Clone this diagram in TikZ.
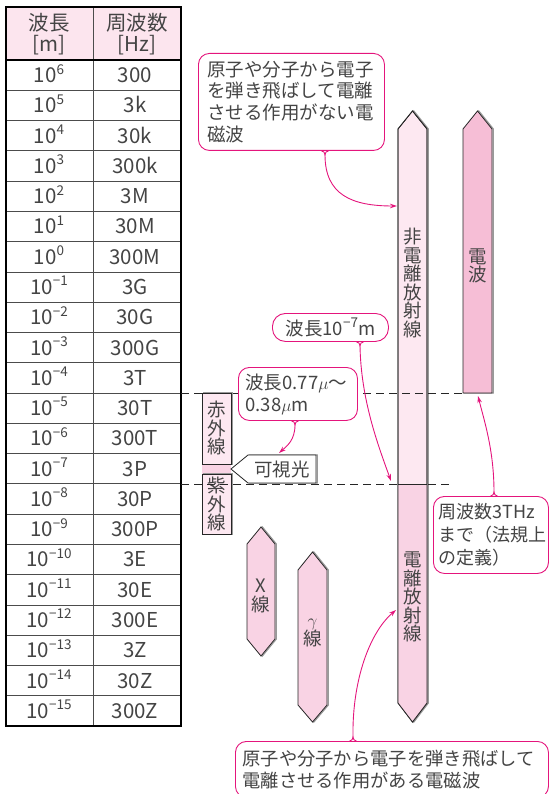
\documentclass[tikz,border=0pt]{standalone}
\usepackage{fontspec}
\setmainfont{Noto Sans CJK JP}
\usetikzlibrary{arrows.meta,calc}
\definecolor{ink}{HTML}{444444}
\definecolor{mag}{HTML}{E4157C}
\definecolor{pkA}{HTML}{FDE8F1}
\definecolor{pkB}{HTML}{F9D3E4}
\definecolor{pkC}{HTML}{F6BED6}
\definecolor{hdr}{HTML}{FCE5EE}
\newcommand\sups[1]{\raisebox{0.42em}{\fontsize{13.5}{13.5}\selectfont #1}}
\begin{document}
\begin{tikzpicture}[x=1pt,y=-1pt,
 tbl/.style={text=ink,font=\fontsize{20.5}{21}\selectfont,inner sep=0pt,align=center},
 vtxt/.style={text=ink,font=\fontsize{18.5}{18.6}\selectfont,inner sep=0pt,align=center},
 callout/.style={draw=mag,line width=0.9pt,rounded corners=11pt,fill=white,text=ink,anchor=north west,inner ysep=0pt,align=left},
 tail/.style={draw=mag,line width=0.9pt,-{Stealth[length=7pt,width=4.5pt]}},
 notch/.style={draw=mag,line width=0.9pt},
 shp/.style={draw=black!85,line width=0.8pt,line join=miter,preaction={draw=black!40,line width=1.3pt,transform canvas={xshift=1.3pt}}},
 outl/.style={draw=black!85,line width=0.8pt,line join=miter},
 dline/.style={draw=black!85,line width=0.8pt,dash pattern=on 8pt off 5pt}]

\useasboundingbox (0,0) rectangle (551,794);

% ---------- table ----------
\fill[hdr] (6,7) rectangle (181,60);
\foreach \k in {1,...,21} \draw[black!70,line width=0.7pt] (6,{60+30.27*\k}) -- (181,{60+30.27*\k});
\draw[black!70,line width=0.8pt] (93,7) -- (93,726);
\draw[black,line width=1.4pt] (6,60) -- (181,60);
\draw[black,line width=2pt] (6,7) rectangle (181,726);

\node[tbl] (h1) at (49,34) {波長\\{[}m{]}};
\node[tbl] (h2) at (137,34) {周波数\\{[}Hz{]}};

\foreach \i/\e/\f in {0/6/300,1/5/3k,2/4/30k,3/3/300k,4/2/3M,5/1/30M,6/0/300M,7/−1/3G,8/−2/30G,9/−3/300G,10/−4/3T,11/−5/30T,12/−6/300T,13/−7/3P,14/−8/30P,15/−9/300P,16/−10/3E,17/−11/30E,18/−12/300E,19/−13/3Z,20/−14/30Z,21/−15/300Z}{
  \node[tbl,anchor=base] (w\i) at (49,{60+30.27*(\i+0.5)+7.5}) {10\sups{\e}};
  \node[tbl,anchor=base] (f\i) at (135,{60+30.27*(\i+0.5)+7.5}) {\f};
}

% ---------- bars ----------
\draw[shp,fill=pkA] (398,129) -- (412.5,111) -- (427,129) -- (427,703) -- (412.5,722) -- (398,703) -- cycle;
\fill[pkB] (398,484) -- (427,484) -- (427,703) -- (412.5,722) -- (398,703) -- cycle;
\draw[outl] (398,129) -- (412.5,111) -- (427,129) -- (427,703) -- (412.5,722) -- (398,703) -- cycle;
\draw[outl] (398,484) -- (427,484);

\draw[shp,fill=pkC] (463,129) -- (477.5,111) -- (492,129) -- (492,393) -- (463,393) -- cycle;

\fill[pkB] (202,464) rectangle (231,474);
\draw[shp,fill=pkA] (202,393) rectangle (231,464);
\draw[shp,fill=pkA] (202,474) rectangle (231,534);
\draw[shp,fill=white] (231,469) -- (248,455) -- (316,455) -- (316,483) -- (248,483) -- cycle;

\draw[shp,fill=pkB] (247,544) -- (261,527) -- (275,544) -- (275,639) -- (261,656) -- (247,639) -- cycle;
\draw[shp,fill=pkB] (298,570) -- (312.5,552) -- (327,570) -- (327,705) -- (312.5,722) -- (298,705) -- cycle;

\draw[dline] (181,393) -- (463,393);
\draw[dline] (181,484) -- (451,484);

\node[vtxt] (t1) at (412.5,283) {非\\電\\離\\放\\射\\線};
\node[vtxt] (t2) at (477.5,266) {電\\波};
\node[vtxt] (t3) at (412.5,597) {電\\離\\放\\射\\線};
\node[vtxt] (t4) at (216.5,428) {赤\\外\\線};
\node[vtxt] (t5) at (216.5,504) {紫\\外\\線};
\node[vtxt] (t6) at (282,469) {可視光};
\node[vtxt] (t7) at (261,596) {X\\線};
\node[vtxt] (t8) at (312.5,633) {$\gamma$\\線};

% ---------- callouts ----------
\node[callout,minimum width=186pt,minimum height=97pt,inner xsep=9pt,text width=168pt,font=\fontsize{18.5}{21.7}\selectfont] (cA) at (198,53) {原子や分子から電子\\を弾き飛ばして電離\\させる作用がない電\\磁波};
\node[callout,minimum width=116pt,minimum height=28pt,inner xsep=0pt,align=center,rounded corners=13pt,font=\fontsize{18.5}{20}\selectfont] (cB) at (272,313) {波長10\sups{−7}m};
\node[callout,minimum height=53pt,inner xsep=7pt,text width=105pt,font=\fontsize{18.5}{22}\selectfont] (cC) at (238,367) {波長0.77$\mu$～\\0.38$\mu$m};
\node[callout,minimum height=77pt,inner xsep=5pt,text width=105pt,font=\fontsize{18}{23}\selectfont] (cD) at (433,496) {周波数3THz\\まで（法規上\\の定義）};
\node[callout,minimum height=56pt,inner xsep=7pt,text width=299pt,font=\fontsize{18.3}{22}\selectfont] (cE) at (235,741) {原子や分子から電子を弾き飛ばして\\電離させる作用がある電磁波};

\coordinate (aTop) at (397,206);
\coordinate (a7) at (391,481);
\coordinate (aVis) at (279,453);
\coordinate (aTHz) at (478,396);
\coordinate (aBot) at (396,610);

% tails (bottom)
\draw[notch] ([xshift=123.5pt]cA.south west) to[out=0,in=90] ([xshift=127pt,yshift=-4pt]cA.south west) to[out=90,in=180] ([xshift=130.5pt]cA.south west);
\draw[tail] ([xshift=127pt,yshift=-4pt]cA.south west) .. controls (325,195) and (352,206) .. (aTop);

\draw[notch] ([xshift=84.5pt]cB.south west) to[out=0,in=90] ([xshift=88pt,yshift=-4pt]cB.south west) to[out=90,in=180] ([xshift=91.5pt]cB.south west);
\draw[tail] ([xshift=88pt,yshift=-4pt]cB.south west) .. controls (361,400) and (378,445) .. (a7);

\draw[notch] ([xshift=53.5pt]cC.south west) to[out=0,in=90] ([xshift=57pt,yshift=-4pt]cC.south west) to[out=90,in=180] ([xshift=60.5pt]cC.south west);
\draw[tail] ([xshift=57pt,yshift=-4pt]cC.south west) .. controls (295,440) and (287,446) .. (aVis);

% tails (top)
\draw[notch] ([xshift=57.5pt]cD.north west) to[out=0,in=-90] ([xshift=61pt,yshift=4pt]cD.north west) to[out=-90,in=180] ([xshift=64.5pt]cD.north west);
\draw[tail] ([xshift=61pt,yshift=4pt]cD.north west) .. controls (494,450) and (484,420) .. (aTHz);

\draw[notch] ([xshift=114.5pt]cE.north west) to[out=0,in=-90] ([xshift=118pt,yshift=4pt]cE.north west) to[out=-90,in=180] ([xshift=121.5pt]cE.north west);
\draw[tail] ([xshift=118pt,yshift=4pt]cE.north west) .. controls (352,680) and (370,632) .. (aBot);

\end{tikzpicture}
\end{document}
